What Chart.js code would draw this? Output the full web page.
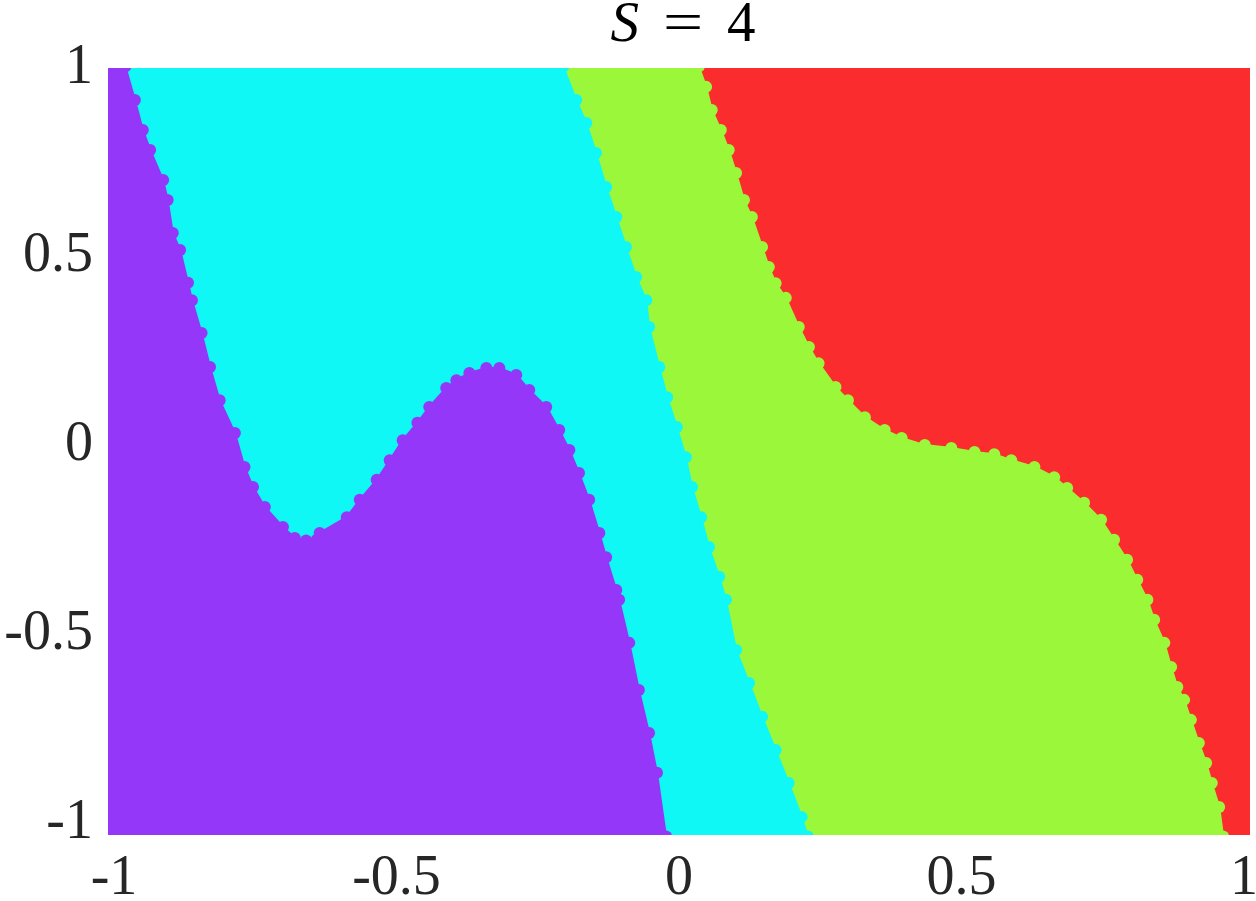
<!DOCTYPE html>
<html>
<head>
<meta charset="utf-8">
<script src="https://cdn.jsdelivr.net/npm/chart.js@4"></script>
<style>
  body { margin: 0; background: #fff; }
  #wrap { width: 1256px; height: 901px; position: relative; }
</style>
</head>
<body>
<div id="wrap"><canvas id="grafico"></canvas></div>
<script>
// ticks
const xTicks = [-1, -0.5, 0, 0.5, 1];
const xTickLabels = ["-1", "-0.5", "0", "0.5", "1"];
const yTicks = [-1, -0.5, 0, 0.5, 1];
const yTickLabels = ["-1", "-0.5", "0", "0.5", "1"];

// class boundaries (each region fills down to the bottom)
const purpleX = [-1.02, -0.98, -0.963, -0.949, -0.936, -0.913, -0.905, -0.896, -0.883, -0.869, -0.862, -0.845, -0.830, -0.813, -0.786, -0.769, -0.754, -0.733, -0.701, -0.680, -0.660, -0.641, -0.636, -0.588, -0.565, -0.535, -0.512, -0.489, -0.463, -0.442, -0.412, -0.394, -0.371, -0.341, -0.318, -0.288, -0.265, -0.235, -0.212, -0.194, -0.177, -0.159, -0.141, -0.129, -0.111, -0.106, -0.088, -0.071, -0.053, -0.039, -0.023];
const purpleY = [1.02, 1.02, 0.931, 0.852, 0.799, 0.719, 0.666, 0.579, 0.534, 0.447, 0.401, 0.314, 0.224, 0.136, 0.049, -0.041, -0.094, -0.147, -0.200, -0.229, -0.236, -0.234, -0.216, -0.174, -0.128, -0.075, -0.023, 0.030, 0.076, 0.118, 0.168, 0.189, 0.208, 0.221, 0.221, 0.203, 0.163, 0.118, 0.057, 0.004, -0.057, -0.128, -0.216, -0.280, -0.367, -0.393, -0.507, -0.632, -0.746, -0.851, -1.02];

const cyanX = [-1.02, -0.205, -0.182, -0.164, -0.147, -0.129, -0.111, -0.094, -0.076, -0.058, -0.053, -0.035, -0.021, -0.004, 0.012, 0.023, 0.039, 0.053, 0.071, 0.083, 0.101, 0.124, 0.147, 0.171, 0.194, 0.217, 0.228];
const cyanY = [1.02, 1.02, 0.931, 0.870, 0.791, 0.701, 0.621, 0.542, 0.462, 0.401, 0.330, 0.224, 0.144, 0.065, -0.015, -0.094, -0.174, -0.253, -0.332, -0.393, -0.526, -0.613, -0.703, -0.791, -0.878, -0.968, -1.02];

const greenX = [-1.02, 0.035, 0.048, 0.058, 0.074, 0.088, 0.101, 0.115, 0.129, 0.147, 0.159, 0.171, 0.189, 0.212, 0.230, 0.247, 0.277, 0.299, 0.329, 0.364, 0.394, 0.435, 0.482, 0.523, 0.558, 0.588, 0.629, 0.664, 0.687, 0.717, 0.747, 0.770, 0.793, 0.811, 0.829, 0.841, 0.859, 0.871, 0.882, 0.894, 0.906, 0.920, 0.933, 0.943, 0.956, 0.963];
const greenY = [1.02, 1.02, 0.966, 0.905, 0.852, 0.799, 0.738, 0.666, 0.621, 0.542, 0.489, 0.446, 0.407, 0.330, 0.277, 0.234, 0.171, 0.136, 0.091, 0.057, 0.036, 0.017, 0.009, -0.001, -0.007, -0.023, -0.041, -0.068, -0.097, -0.136, -0.181, -0.234, -0.287, -0.340, -0.393, -0.446, -0.507, -0.571, -0.624, -0.658, -0.711, -0.772, -0.825, -0.878, -0.942, -1.02];

const redX = [-1.02, 1.02];
const redY = [1.02, 1.02];

const titleText = ["S", "=", "4"];

const purple = "#9537f9";
const cyan = "#0ff8f5";
const green = "#9af739";
const red = "#fa2c2d";
const txt = "#262626";
const serif = '"Liberation Serif", "DejaVu Serif", serif';

function pontos(xs, ys) {
    return xs.map((x, i) => ({ x: x, y: ys[i] }));
}

function camada(xs, ys, cor) {
    return {
        data: pontos(xs, ys),
        borderColor: cor,
        backgroundColor: cor,
        borderWidth: 2,
        pointRadius: 6,
        pointBorderWidth: 0,
        pointBackgroundColor: cor,
        fill: "start",
        tension: 0,
        clip: 0
    };
}

// S = 4, italic S like the LaTeX title
const tituloPlugin = {
    id: "tituloMat",
    afterDraw(chart) {
        const c = chart.ctx;
        const cx = (chart.chartArea.left + chart.chartArea.right) / 2;
        const base = 41;
        c.save();
        c.fillStyle = "#000";
        c.textBaseline = "alphabetic";
        c.textAlign = "left";
        c.font = "italic 57px " + serif;
        const wS = c.measureText(titleText[0]).width;
        c.font = "57px " + serif;
        const wEq = c.measureText(titleText[1]).width;
        const w4 = c.measureText(titleText[2]).width;
        const gap = 24;
        let x = cx - (wS + wEq + w4 + 2 * gap) / 2;
        c.font = "italic 57px " + serif;
        c.fillText(titleText[0], x, base);
        x += wS + gap;
        c.font = "57px " + serif;
        c.save();
        c.translate(x, 0);
        c.scale(1.25, 1);
        c.fillText(titleText[1], 0, base);
        c.restore();
        x += wEq * 1.25 + gap;
        c.fillText(titleText[2], x, base);
        c.restore();
    }
};

new Chart(document.getElementById("grafico").getContext("2d"), {
    type: "line",
    data: {
        datasets: [
            camada(purpleX, purpleY, purple),
            camada(cyanX, cyanY, cyan),
            camada(greenX, greenY, green),
            camada(redX, redY, red)
        ]
    },
    options: {
        responsive: true,
        maintainAspectRatio: false,
        animation: false,
        layout: { padding: { top: 68, right: 4, left: 0, bottom: 0 } },
        plugins: {
            legend: { display: false },
            tooltip: { enabled: false },
            title: { display: false }
        },
        scales: {
            x: {
                type: "linear",
                min: -1.0106,
                max: 1.0106,
                grid: { display: false, drawTicks: false },
                border: { display: false },
                afterBuildTicks: s => { s.ticks = xTicks.map(v => ({ value: v })); },
                afterFit: s => { s.height = 66; s.paddingLeft = 0; s.paddingRight = 0; },
                ticks: {
                    autoSkip: false,
                    maxRotation: 0,
                    padding: 11,
                    color: txt,
                    font: { family: serif, size: 56 },
                    callback: (v, i) => xTickLabels[i]
                }
            },
            y: {
                type: "linear",
                min: -1.016,
                max: 1.016,
                grid: { display: false, drawTicks: false },
                border: { display: false },
                afterBuildTicks: s => { s.ticks = yTicks.map(v => ({ value: v })); },
                afterFit: s => { s.width = 108; s.paddingTop = 0; s.paddingBottom = 0; },
                ticks: {
                    autoSkip: false,
                    padding: 15,
                    labelOffset: -6,
                    color: txt,
                    font: { family: serif, size: 56 },
                    callback: (v, i) => yTickLabels[i]
                }
            }
        }
    },
    plugins: [tituloPlugin]
});
</script>
</body>
</html>
